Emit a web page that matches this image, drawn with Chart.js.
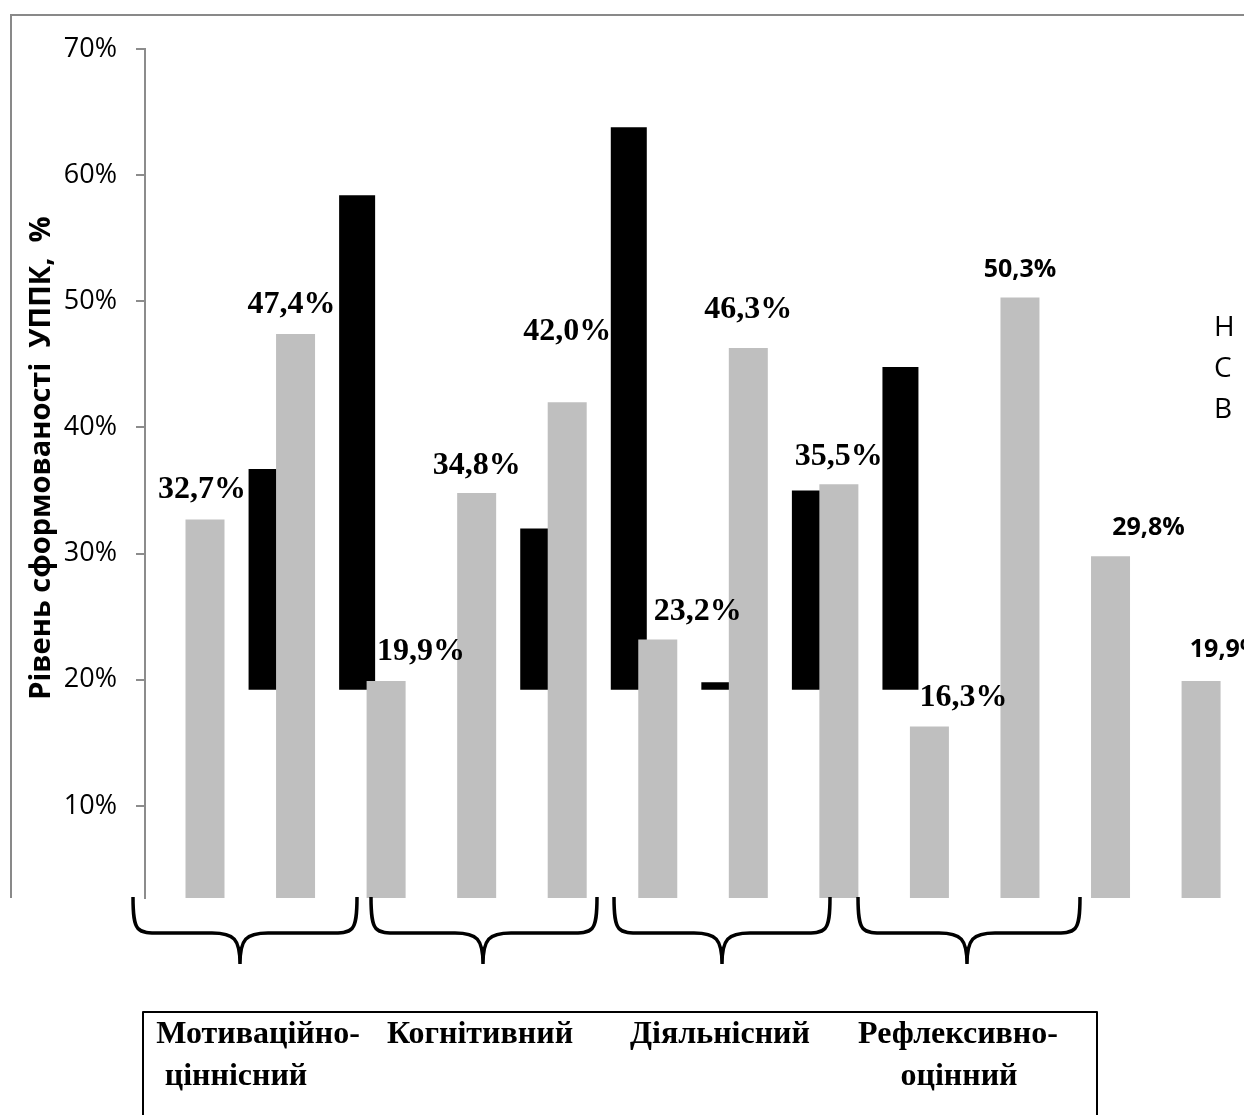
<!DOCTYPE html>
<html lang="uk">
<head>
<meta charset="utf-8">
<title>Рівень сформованості УППК</title>
<script src="https://cdn.jsdelivr.net/npm/chart.js@4.4.1/dist/chart.umd.min.js"></script>
<style>
  html, body { margin: 0; padding: 0; background: #fff; }
  #wrap { position: relative; width: 1244px; height: 1115px; overflow: hidden; }
  canvas { display: block; }
</style>
</head>
<body>
<div id="wrap"><canvas id="chart" width="1244" height="1115"></canvas></div>
<script>
// Components of readiness (grouped under the braces)
const categories = [
  ['Мотиваційно-', 'ціннісний'],
  ['Когнітивний'],
  ['Діяльнісний'],
  ['Рефлексивно-', 'оцінний']
];
// Grey bars, %
const greyValues = [32.7, 47.4, 19.9, 34.8, 42.0, 23.2, 46.3, 35.5, 16.3, 50.3, 29.8, 19.9];
// Black floating bars: lower / upper bound, % (slot 2 is empty)
const blackLow  = [19.2, 19.2, null, 19.2, 19.2, 19.2, 19.2, 19.2];
const blackHigh = [36.7, 58.4, null, 32.0, 63.8, 19.8, 35.0, 44.8];
// Y-axis ticks, %
const yTicks = [10, 20, 30, 40, 50, 60, 70];
// Level letters at the right
const legendLabels = ['Н', 'С', 'В'];
const yTitle = 'Рівень сформованості  УППК,  %';

// ---- layout / style ----
const BLACK_SHIFT = 0.68;                 // black bar sits right of its grey neighbour (index units)
const labelShift = [[-3, 30], [-4, 29], [35, 29], [0, 27], [0, 70], [40, 28],
                    [0, 38], [0, 27], [34, 29], [0, 28], [38, 28], [25, 31]];
const labelSans = [false, false, false, false, false, false, false, false, false, true, true, true];
const braceSpans = [[133, 357, 240], [371, 597, 483], [614, 830, 722], [858, 1080, 967]];
const categoryLineX = [[258, 236], [480], [720], [958, 959]];

const greyData = greyValues.map((v, i) => ({ x: i, y: v }));
const blackData = [];
blackHigh.forEach((h, i) => {
  if (h !== null && blackLow[i] !== null) blackData.push({ x: i + BLACK_SHIFT, y: [blackLow[i], h] });
});

const fmt = v => v.toFixed(1).replace('.', ',') + '%';

const frame = {
  id: 'frame',
  beforeDraw(chart) {
    const ctx = chart.ctx;
    ctx.save();
    ctx.strokeStyle = '#898989';
    ctx.lineWidth = 2;
    ctx.beginPath();
    ctx.moveTo(11, 898);
    ctx.lineTo(11, 15);
    ctx.lineTo(1244, 15);
    ctx.stroke();
    ctx.restore();
  }
};

const valueLabels = {
  id: 'valueLabels',
  afterDatasetsDraw(chart) {
    const ctx = chart.ctx;
    const meta = chart.getDatasetMeta(0);
    ctx.save();
    ctx.fillStyle = '#000';
    ctx.textAlign = 'center';
    ctx.textBaseline = 'middle';
    meta.data.forEach((bar, i) => {
      const [dx, dy] = labelShift[i];
      ctx.font = labelSans[i] ? 'bold 25px "Open Sans"' : 'bold 32px "Liberation Serif"';
      ctx.fillText(fmt(greyValues[i]), bar.x + dx, bar.y - dy);
    });
    ctx.restore();
  }
};

function brace(ctx, x0, x1, xc, y0, ym, yt) {
  const r = 28;
  ctx.beginPath();
  ctx.moveTo(x0, y0);
  ctx.bezierCurveTo(x0, ym, x0 + 4, ym, x0 + r, ym);
  ctx.lineTo(xc - r, ym);
  ctx.bezierCurveTo(xc - 6, ym, xc, ym + 6, xc, yt);
  ctx.moveTo(x1, y0);
  ctx.bezierCurveTo(x1, ym, x1 - 4, ym, x1 - r, ym);
  ctx.lineTo(xc + r, ym);
  ctx.bezierCurveTo(xc + 6, ym, xc, ym + 6, xc, yt);
  ctx.stroke();
}

const annotations = {
  id: 'annotations',
  afterDraw(chart) {
    const ctx = chart.ctx;
    ctx.save();
    // axis title, read bottom to top
    ctx.save();
    ctx.translate(42, 458);
    ctx.rotate(-Math.PI / 2);
    ctx.fillStyle = '#000';
    ctx.font = 'bold 29px "Open Sans"';
    ctx.textAlign = 'center';
    ctx.textBaseline = 'middle';
    ctx.fillText(yTitle, 0, 0);
    ctx.restore();
    // braces
    ctx.strokeStyle = '#000';
    ctx.lineWidth = 3.5;
    ctx.lineJoin = 'round';
    braceSpans.forEach(([x0, x1, xc]) => brace(ctx, x0, x1, xc, 897, 933, 964));
    // box with component names
    ctx.lineWidth = 2;
    ctx.strokeRect(143, 1012, 954, 130);
    ctx.fillStyle = '#000';
    ctx.font = 'bold 32px "Liberation Serif"';
    ctx.textAlign = 'center';
    ctx.textBaseline = 'middle';
    categories.forEach((lines, g) => {
      lines.forEach((t, k) => ctx.fillText(t, categoryLineX[g][k], 1035 + k * 42));
    });
    // level letters
    ctx.font = '28px "Open Sans"';
    ctx.textAlign = 'left';
    legendLabels.forEach((t, k) => ctx.fillText(t, 1214, 328 + k * 41));
    ctx.restore();
  }
};

new Chart(document.getElementById('chart'), {
  type: 'bar',
  data: {
    datasets: [
      {
        label: 'grey', data: greyData, backgroundColor: '#bfbfbf',
        grouped: false, barPercentage: 3, maxBarThickness: 39, order: 0
      },
      {
        label: 'black', data: blackData, backgroundColor: '#000000',
        grouped: false, barPercentage: 3, maxBarThickness: 36, order: 1
      }
    ]
  },
  options: {
    responsive: false,
    animation: false,
    devicePixelRatio: 1,
    layout: { padding: { left: 11, top: 49, right: 0, bottom: 217 } },
    plugins: { legend: { display: false }, tooltip: { enabled: false } },
    scales: {
      x: { type: 'linear', min: -0.6626, max: 11.474, offset: false, display: false },
      y: {
        min: 2.7, max: 70,
        afterBuildTicks: s => { s.ticks = yTicks.map(v => ({ value: v })); },
        afterFit: s => { s.width = 134; },
        ticks: { callback: v => v + '%', color: '#000', font: { family: 'Open Sans', size: 27 }, padding: 19 },
        grid: { drawOnChartArea: false, drawTicks: true, tickLength: 9, color: '#8c8c8c', lineWidth: 2 },
        border: { display: true, color: '#8c8c8c', width: 2 },
        title: { display: false }
      }
    }
  },
  plugins: [frame, valueLabels, annotations]
});
</script>
</body>
</html>
